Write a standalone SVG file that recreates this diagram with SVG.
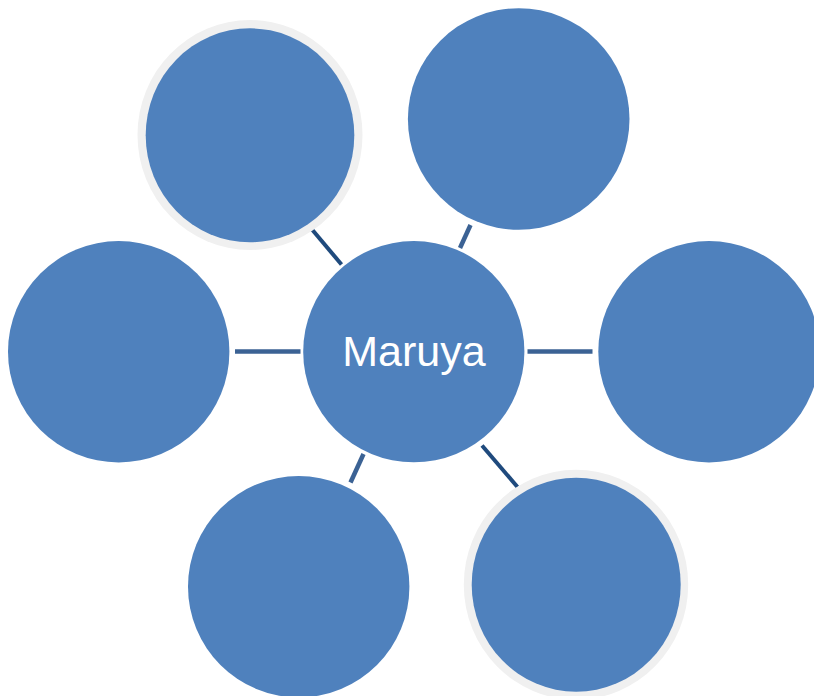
<svg xmlns="http://www.w3.org/2000/svg" width="814" height="696" viewBox="0 0 814 696">
<style>
.node{fill:#4f81bd}
.ring{fill:#f0f0f0}
.c1{stroke:#3b6294;stroke-width:4.5;stroke-linecap:butt;fill:none}
.c2{stroke:#1f4a7d;stroke-width:4;stroke-linecap:butt;fill:none}
.lbl{font-family:"Liberation Sans",Arial,sans-serif;font-size:43px;fill:#ffffff}
</style>
<rect width="814" height="696" fill="#ffffff"/>
<g id="connectors">
<line class="c1" x1="235" y1="351.5" x2="300.5" y2="351.5"/>
<line class="c1" x1="527.5" y1="351.5" x2="592.5" y2="351.5"/>
<line class="c2" x1="307" y1="223.5" x2="341.5" y2="264.5"/>
<line class="c1" x1="470.5" y1="225" x2="460" y2="248"/>
<line class="c1" x1="363.5" y1="454" x2="350.5" y2="482.5"/>
<line class="c2" x1="482" y1="445.5" x2="517.5" y2="487"/>
</g>
<g id="node-top-left">
<ellipse class="ring" cx="250" cy="135" rx="112.5" ry="115"/>
<ellipse class="node" cx="250" cy="135.3" rx="104.3" ry="107"/>
</g>
<g id="node-top-right">
<circle class="node" cx="518.7" cy="119" r="110.8"/>
</g>
<g id="node-left">
<circle class="node" cx="118.7" cy="351.7" r="110.7"/>
</g>
<g id="node-right">
<circle class="node" cx="709" cy="351.7" r="110.7"/>
</g>
<g id="node-bottom-left">
<circle class="node" cx="298.7" cy="586.7" r="110.7"/>
</g>
<g id="node-bottom-right">
<ellipse class="ring" cx="576" cy="584.7" rx="112.2" ry="115"/>
<ellipse class="node" cx="576.2" cy="584.7" rx="104.5" ry="107"/>
</g>
<g id="node-center">
<circle class="node" cx="413.8" cy="351.7" r="110.6"/>
<text class="lbl" x="414" y="365.5" text-anchor="middle">Maruya</text>
</g>
</svg>
